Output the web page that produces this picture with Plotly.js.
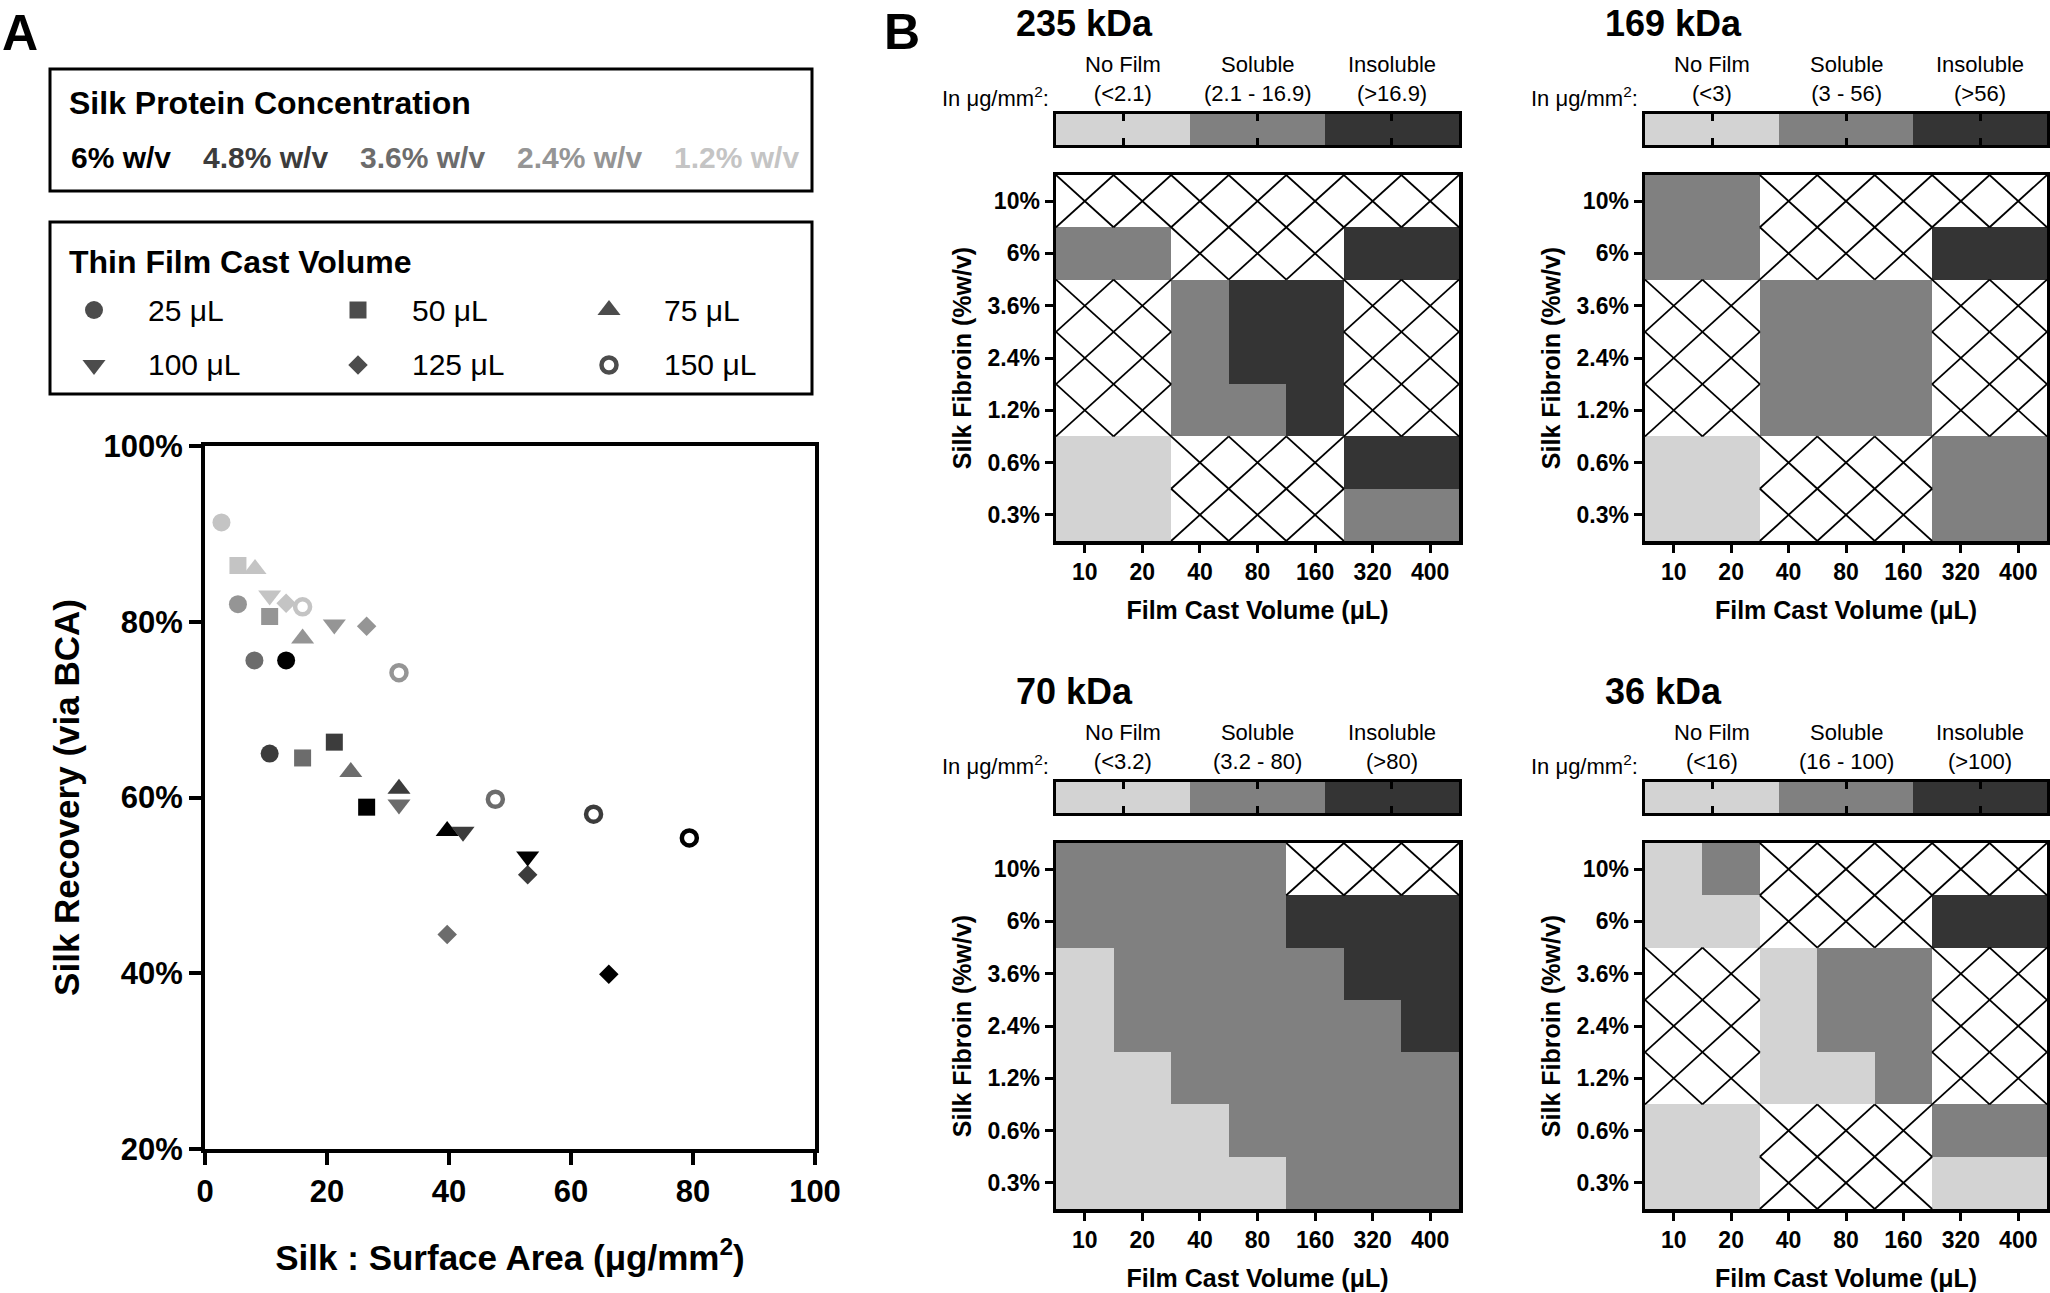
<!DOCTYPE html>
<html><head><meta charset="utf-8">
<script src="https://cdn.plot.ly/plotly-3.0.1.min.js"></script>
<style>html,body{margin:0;padding:0;background:#fff;} #chart{width:2050px;height:1293px;}</style>
</head><body><div id="chart"></div>
<script>
// ---------------- Panel A data ----------------
const concLabels = ["6% w/v", "4.8% w/v", "3.6% w/v", "2.4% w/v", "1.2% w/v"];
const volumeLabels = ["25 μL", "50 μL", "75 μL", "100 μL", "125 μL", "150 μL"];
// silk : surface area (µg/mm²) and recovery (%) for 25..150 µL
const surfaceArea6  = [13.3, 26.5, 39.7, 52.9, 66.2, 79.4];
const recovery6     = [75.6, 58.9, 56.2, 53.3, 39.9, 55.4];
const surfaceArea48 = [10.6, 21.2, 31.8, 42.3, 52.9, 63.7];
const recovery48    = [65.0, 66.3, 61.0, 56.1, 51.2, 58.1];
const surfaceArea36 = [8.1, 16.0, 23.9, 31.8, 39.7, 47.6];
const recovery36    = [75.6, 64.5, 62.9, 59.2, 44.4, 59.8];
const surfaceArea24 = [5.4, 10.6, 16.0, 21.2, 26.5, 31.8];
const recovery24    = [82.0, 80.6, 78.1, 79.7, 79.5, 74.2];
const surfaceArea12 = [2.7, 5.4, 8.2, 10.6, 13.3, 16.0];
const recovery12    = [91.3, 86.4, 86.0, 83.0, 82.1, 81.7];

// ---------------- Panel B data ----------------
const fibroinLevels = ["10%", "6%", "3.6%", "2.4%", "1.2%", "0.6%", "0.3%"];
const castVolumes = ["10", "20", "40", "80", "160", "320", "400"];
const filmStates = ["No Film", "Soluble", "Insoluble"];
const panelTitles = ["235 kDa", "169 kDa", "70 kDa", "36 kDa"];
const thresholds235 = ["(<2.1)", "(2.1 - 16.9)", "(>16.9)"];
const thresholds169 = ["(<3)", "(3 - 56)", "(>56)"];
const thresholds70  = ["(<3.2)", "(3.2 - 80)", "(>80)"];
const thresholds36  = ["(<16)", "(16 - 100)", "(>100)"];
// rows = fibroin 10% .. 0.3%, columns = cast volume 10 .. 400 µL
// N = no film, S = soluble, I = insoluble, H = not tested (hatched)
const outcome235 = ["HHHHHHH", "SSHHHII", "HHSIIHH", "HHSIIHH", "HHSSIHH", "NNHHHII", "NNHHHSS"];
const outcome169 = ["SSHHHHH", "SSHHHII", "HHSSSHH", "HHSSSHH", "HHSSSHH", "NNHHHSS", "NNHHHSS"];
const outcome70  = ["SSSSHHH", "SSSSIII", "NSSSSII", "NSSSSSI", "NNSSSSS", "NNNSSSS", "NNNNSSS"];
const outcome36  = ["NSHHHHH", "NNHHHII", "HHNSSHH", "HHNSSHH", "HHNNSHH", "NNHHHSS", "NNHHHNN"];

// ---------------- styles ----------------
const FONT = "Liberation Sans, Arial, Helvetica, sans-serif";
const W = 2050, H = 1293;
const fx = p => p / W;
const fy = p => 1 - p / H;
const concColors = ["#000000", "#3c3c3c", "#6c6c6c", "#959595", "#c4c4c4"];
const volumeSymbols = ["circle", "square", "triangle-up", "triangle-down", "diamond", "circle-open"];
const symbolSizes = [18, 17, 20, 20, 15, 15];
const symbolLines = [0, 0, 0, 0, 0, 4.5];
const stateColors = ["#d3d3d3", "#808080", "#343434"];
const stateScale = [[0, stateColors[0]], [0.3333, stateColors[0]], [0.3334, stateColors[1]],
                    [0.6666, stateColors[1]], [0.6667, stateColors[2]], [1, stateColors[2]]];
const codeValue = {N: 0, S: 1, I: 2, H: null};

const traces = [];
const annotations = [];
const shapes = [];
const layout = {
  width: W, height: H,
  margin: {l: 0, r: 0, t: 0, b: 0},
  paper_bgcolor: "#ffffff", plot_bgcolor: "rgba(0,0,0,0)",
  showlegend: false, hovermode: false,
  font: {family: FONT, color: "#000"},
};

// ---------------- Panel A scatter ----------------
const saSets = [surfaceArea6, surfaceArea48, surfaceArea36, surfaceArea24, surfaceArea12];
const recSets = [recovery6, recovery48, recovery36, recovery24, recovery12];
for (let c = concLabels.length - 1; c >= 0; c--) {
  traces.push({
    type: "scatter", mode: "markers", name: concLabels[c],
    x: saSets[c], y: recSets[c], xaxis: "x", yaxis: "y",
    marker: {symbol: volumeSymbols, size: symbolSizes, color: concColors[c], opacity: 1,
             line: {color: concColors[c], width: symbolLines}},
    cliponaxis: false,
  });
}
layout.xaxis = {
  domain: [fx(205), fx(815)], anchor: "y", range: [0, 100], tick0: 0, dtick: 20,
  ticks: "outside", ticklen: 12, tickwidth: 4, tickcolor: "#000",
  showline: true, linewidth: 4, linecolor: "#000", mirror: true,
  showgrid: false, zeroline: false,
  tickfont: {size: 31, weight: 700, family: FONT},
  title: {text: "Silk : Surface Area (μg/mm<sup>2</sup>)", font: {size: 35, weight: 700, family: FONT}, standoff: 38},
};
layout.yaxis = {
  domain: [fy(1149), fy(446)], anchor: "x", range: [20, 100], tick0: 20, dtick: 20, ticksuffix: "%",
  ticks: "outside", ticklen: 12, tickwidth: 4, tickcolor: "#000",
  showline: true, linewidth: 4, linecolor: "#000", mirror: true,
  showgrid: false, zeroline: false,
  tickfont: {size: 31, weight: 700, family: FONT},
  title: {text: "Silk Recovery (via BCA)", font: {size: 35, weight: 700, family: FONT}, standoff: 14},
};

// Legend boxes for panel A
shapes.push({type: "rect", xref: "paper", yref: "paper", x0: fx(50), x1: fx(812), y0: fy(191), y1: fy(69),
             line: {color: "#000", width: 3}});
shapes.push({type: "rect", xref: "paper", yref: "paper", x0: fx(50), x1: fx(812), y0: fy(394), y1: fy(222),
             line: {color: "#000", width: 3}});
annotations.push({xref: "paper", yref: "paper", x: fx(67), y: fy(103), xanchor: "left", yanchor: "middle",
  text: "Silk Protein Concentration", showarrow: false, font: {size: 32, weight: 700}});
const concLabelX = [69, 201, 358, 515, 672];
concLabels.forEach((t, i) => annotations.push({xref: "paper", yref: "paper", x: fx(concLabelX[i]), y: fy(157),
  xanchor: "left", yanchor: "middle", text: t, showarrow: false, font: {size: 30, weight: 700, color: concColors[i]}}));
annotations.push({xref: "paper", yref: "paper", x: fx(67), y: fy(262), xanchor: "left", yanchor: "middle",
  text: "Thin Film Cast Volume", showarrow: false, font: {size: 32, weight: 700}});
const keyColX = [94, 358, 609];
const keyLabelX = [146, 410, 662];
const keyRowY = [310, 365];
const keyX = [], keyY = [];
volumeLabels.forEach((t, i) => {
  const col = i % 3, row = Math.floor(i / 3);
  keyX.push(keyColX[col]); keyY.push(keyRowY[row]);
  annotations.push({xref: "paper", yref: "paper", x: fx(keyLabelX[col]), y: fy(keyRowY[row]),
    xanchor: "left", yanchor: "middle", text: t, showarrow: false, font: {size: 30}});
});
traces.push({type: "scatter", mode: "markers", x: keyX, y: keyY, xaxis: "x2", yaxis: "y2",
  marker: {symbol: volumeSymbols, size: symbolSizes, color: "#000", line: {color: "#000", width: symbolLines}}});
layout.xaxis2 = {domain: [0, 1], range: [0, W], visible: false, anchor: "y2"};
layout.yaxis2 = {domain: [0, 1], range: [H, 0], visible: false, anchor: "x2"};

annotations.push({xref: "paper", yref: "paper", x: fx(0), y: fy(33), xanchor: "left", yanchor: "middle",
  text: "A", showarrow: false, font: {size: 50, weight: 700}});
annotations.push({xref: "paper", yref: "paper", x: fx(882), y: fy(32), xanchor: "left", yanchor: "middle",
  text: "B", showarrow: false, font: {size: 50, weight: 700}});

// ---------------- Panel B heatmaps ----------------
const outcomes = [outcome235, outcome169, outcome70, outcome36];
const thresholds = [thresholds235, thresholds169, thresholds70, thresholds36];
const geom = [
  {left: 1056, right: 1459, top: 175, bottom: 541, cbTop: 114, cbBot: 145},
  {left: 1645, right: 2047, top: 175, bottom: 541, cbTop: 114, cbBot: 145},
  {left: 1056, right: 1459, top: 843, bottom: 1209, cbTop: 782, cbBot: 813},
  {left: 1645, right: 2047, top: 843, bottom: 1209, cbTop: 782, cbBot: 813},
];
const idx = castVolumes.map((_, i) => i);
const rowIdx = fibroinLevels.map((_, i) => i);

outcomes.forEach((grid, k) => {
  const g = geom[k];
  const hx = "x" + (3 + 2 * k), hy = "y" + (3 + 2 * k);
  const cx = "x" + (4 + 2 * k), cy = "y" + (4 + 2 * k);
  const z = grid.map(row => row.split("").map(ch => codeValue[ch]));
  traces.push({type: "heatmap", z: z, x: idx, y: rowIdx, xaxis: hx, yaxis: hy,
    zmin: 0, zmax: 2, colorscale: stateScale, showscale: false, hoverinfo: "skip"});
  // hatch: an X across every untested cell
  const lx = [], ly = [];
  grid.forEach((row, r) => row.split("").forEach((ch, c) => {
    if (ch === "H") {
      lx.push(c - 0.5, c + 0.5, null, c - 0.5, c + 0.5, null);
      ly.push(r - 0.5, r + 0.5, null, r + 0.5, r - 0.5, null);
    }
  }));
  traces.push({type: "scatter", mode: "lines", x: lx, y: ly, xaxis: hx, yaxis: hy,
    line: {color: "#000", width: 1.8}, connectgaps: false, hoverinfo: "skip"});
  const axBase = {showline: true, linewidth: 3.5, linecolor: "#000", mirror: true,
    showgrid: false, zeroline: false, ticks: "outside", ticklen: 8, tickwidth: 3, tickcolor: "#000",
    tickfont: {size: 23, weight: 700, family: FONT}};
  layout["xaxis" + (3 + 2 * k)] = Object.assign({}, axBase, {
    domain: [fx(g.left), fx(g.right)], anchor: hy, range: [-0.5, 6.5],
    tickvals: idx, ticktext: castVolumes,
    title: {text: "Film Cast Volume (μL)", font: {size: 25, weight: 700, family: FONT}, standoff: 18}});
  layout["yaxis" + (3 + 2 * k)] = Object.assign({}, axBase, {
    domain: [fy(g.bottom), fy(g.top)], anchor: hx, range: [6.5, -0.5],
    tickvals: rowIdx, ticktext: fibroinLevels,
    title: {text: "Silk Fibroin (%w/v)", font: {size: 25, weight: 700, family: FONT}, standoff: 9}});
  // colour key bar
  traces.push({type: "heatmap", z: [[0, 1, 2]], x: [0, 1, 2], y: [0], xaxis: cx, yaxis: cy,
    zmin: 0, zmax: 2, colorscale: stateScale, showscale: false, hoverinfo: "skip"});
  layout["xaxis" + (4 + 2 * k)] = {domain: [fx(g.left), fx(g.right)], anchor: cy, range: [-0.5, 2.5],
    tickvals: [0, 1, 2], ticks: "inside", ticklen: 7, tickwidth: 3, tickcolor: "#000", showticklabels: false,
    showline: true, linewidth: 3, linecolor: "#000", mirror: "ticks", showgrid: false, zeroline: false};
  layout["yaxis" + (4 + 2 * k)] = {domain: [fy(g.cbBot), fy(g.cbTop)], anchor: cx, range: [-0.5, 0.5],
    showticklabels: false, ticks: "", showline: true, linewidth: 3, linecolor: "#000", mirror: true,
    showgrid: false, zeroline: false};
  filmStates.forEach((s, i) => annotations.push({xref: cx, yref: "paper", x: i, y: fy(g.cbTop - 6),
    xanchor: "center", yanchor: "bottom", text: s + "<br>" + thresholds[k][i], showarrow: false,
    font: {size: 22}}));
  annotations.push({xref: "paper", yref: "paper", x: fx(g.left - 5), y: fy(g.cbTop - 17), xanchor: "right",
    yanchor: "middle", text: "In μg/mm<sup>2</sup>:", showarrow: false, font: {size: 22}});
  annotations.push({xref: "paper", yref: "paper", x: fx(g.left - 42), y: fy(g.top - 152), xanchor: "left",
    yanchor: "middle", text: panelTitles[k], showarrow: false, font: {size: 36, weight: 700}});
});

layout.annotations = annotations;
layout.shapes = shapes;
Plotly.newPlot("chart", traces, layout, {displayModeBar: false, staticPlot: true});
</script></body></html>
